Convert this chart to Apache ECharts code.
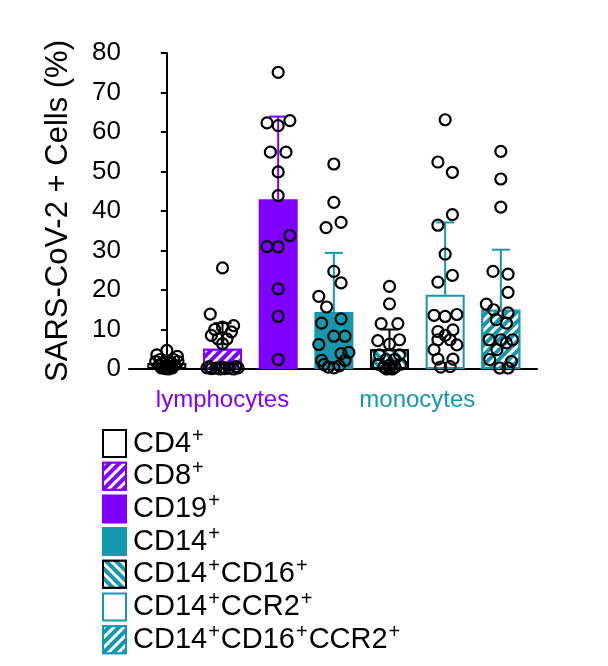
<!DOCTYPE html>
<html>
<head>
<meta charset="utf-8">
<script src="https://cdn.jsdelivr.net/npm/echarts@6/dist/echarts.min.js"></script>
<style>
  html, body { margin: 0; padding: 0; background: #fff; }
  #chart { width: 608px; height: 666px; }
</style>
</head>
<body>
<div id="chart"></div>
<script>
// cell populations, mean and SD (%)
const categories = ['CD4+', 'CD8+', 'CD19+', 'CD14+', 'CD14+CD16+', 'CD14+CCR2+', 'CD14+CD16+CCR2+'];
const means = [1.5, 5.1, 43.0, 14.4, 5.0, 18.8, 15.0];
const sds = [1.4, 6.5, 20.9, 15.0, 5.0, 18.3, 15.2];

const yMin = 0, yMax = 80, yStep = 10;

const groupNames = ['lymphocytes', 'monocytes'];
const groupMembers = [[0, 1, 2], [3, 4, 5, 6]];

// individual donors: [jitter in category units, value]
const cd4Points = [[0, 4.7], [-0.18, 3.6], [0.19, 3.2], [-0.12, 2.4], [0.12, 2.4], [-0.2, 1.9], [0.2, 1.9],
  [0, 2.0], [-0.08, 1.5], [0.08, 1.5], [-0.14, 1.0], [0.14, 1.0], [0, 1.0], [-0.06, 0.6], [0.06, 0.6],
  [-0.1, 0.3], [0.1, 0.3], [0, 0.2], [-0.03, 0.1], [0.03, 0.0]];
const cd8Points = [[0, 25.6], [-0.22, 13.9], [0.2, 11.0], [0, 10.6], [-0.14, 10.0], [0.16, 9.4], [-0.2, 8.5],
  [-0.08, 7.6], [0.08, 7.6], [0, 6.4], [-0.28, 0.3], [-0.2, 0.1], [-0.12, 0.2], [-0.04, 0.0], [0.04, 0.1],
  [0.12, 0.2], [0.2, 0.0], [0.28, 0.3], [-0.24, 0.6], [0.24, 0.6], [0, 0.5]];
const cd19Points = [[0, 75.1], [-0.2, 62.3], [0, 61.6], [0.21, 62.9], [-0.14, 54.9], [0.14, 54.9], [0, 49.9],
  [0, 43.9], [-0.2, 31.0], [0, 30.9], [0.21, 33.8], [0, 20.3], [0, 13.3], [0, 2.4]];
const cd14Points = [[0, 51.9], [0, 42.2], [0.13, 37.1], [-0.14, 35.8], [0, 24.7], [0.13, 21.8], [-0.27, 18.4],
  [-0.13, 15.7], [-0.22, 11.6], [0.13, 12.7], [0, 8.3], [0.2, 8.3], [-0.27, 6.2], [0.13, 3.9], [0.27, 4.2],
  [-0.22, 2.2], [0.2, 2.2], [-0.18, 1.1], [0, 0.3], [0.1, 0.8], [-0.1, 0.5]];
const cd14cd16Points = [[0, 20.9], [0, 16.5], [-0.15, 11.5], [0.15, 11.5], [-0.21, 7.2], [0.18, 7.4], [0, 6.3],
  [-0.18, 3.6], [0.18, 3.6], [-0.06, 2.4], [0.09, 2.4], [-0.2, 1.2], [0.2, 1.2], [-0.1, 0.5], [0.1, 0.5],
  [0, 0.2], [-0.05, 0.0], [0.05, 0.0], [0, 1.0]];
const ccr2Points = [[0, 63.1], [-0.13, 52.4], [0.13, 49.8], [0.13, 39.1], [-0.13, 36.4], [0, 29.1], [0.13, 23.7],
  [-0.13, 22.0], [-0.2, 13.6], [0, 13.3], [0.21, 13.8], [-0.13, 9.5], [0.14, 9.9], [0, 8.5], [-0.13, 7.4],
  [0.09, 7.4], [0.21, 6.1], [-0.2, 4.9], [-0.13, 2.5], [0.14, 2.5], [-0.08, 0.5], [0.09, 0.6]];
const cd16ccr2Points = [[0, 55.1], [0, 48.1], [0, 41.0], [-0.14, 24.7], [0.13, 24.0], [0.13, 19.4], [-0.26, 16.4],
  [-0.13, 15.0], [0.13, 14.2], [-0.08, 12.5], [0.1, 11.6], [-0.21, 7.4], [0, 7.4], [0.21, 7.4], [-0.07, 4.9],
  [0.1, 6.6], [-0.2, 2.4], [0.19, 1.9], [-0.02, 0.25], [0.13, 0.25]];
const points = [cd4Points, cd8Points, cd19Points, cd14Points, cd14cd16Points, ccr2Points, cd16ccr2Points];

const purple = '#7F00FF';
const teal = '#1598AE';
const font = '"Liberation Sans", Arial, Helvetica, sans-serif';

function stripes(rotation) {
  return { symbol: 'rect', symbolSize: 1, color: '#fff', dashArrayX: [1, 0], dashArrayY: [3, 3.5], rotation: rotation };
}
const barStyles = [
  { color: '#fff', borderColor: '#000' },
  { color: purple, borderColor: purple, decal: stripes(-Math.PI / 4) },
  { color: purple, borderColor: purple },
  { color: teal, borderColor: teal },
  { color: teal, borderColor: '#000', decal: stripes(Math.PI / 4) },
  { color: '#fff', borderColor: teal },
  { color: teal, borderColor: teal, decal: stripes(-Math.PI / 4) }
];
const errColors = ['#000', '#000', purple, teal, '#000', teal, teal];

const chart = echarts.init(document.getElementById('chart'));

const barSeries = categories.map((name, i) => ({
  type: 'bar',
  name: name,
  data: [[i, means[i]]],
  barWidth: 39,
  barGap: '-100%',
  itemStyle: Object.assign({ borderWidth: 2 }, barStyles[i]),
  z: 2,
  silent: true
}));

const option = {
  animation: false,
  grid: { left: 129, right: 71, top: 53, bottom: 297 },
  xAxis: {
    type: 'value', min: -0.68, max: 6.65,
    axisLine: { show: true, lineStyle: { color: '#000', width: 2 } },
    axisTick: { show: false }, axisLabel: { show: false }, splitLine: { show: false }
  },
  yAxis: {
    type: 'value', min: yMin, max: yMax, interval: yStep,
    name: 'SARS-CoV-2 + Cells (%)',
    nameLocation: 'middle', nameGap: 55,
    nameTextStyle: { fontSize: 31, color: '#000', fontFamily: font },
    axisLine: { show: true, lineStyle: { color: '#000', width: 2 } },
    axisTick: { show: true, length: 6, lineStyle: { color: '#000', width: 2 } },
    axisLabel: { fontSize: 26, color: '#000', fontFamily: font, margin: 8 },
    splitLine: { show: false }
  },
  legend: {
    data: categories,
    orient: 'vertical',
    left: 97, top: 421, height: 242,
    itemWidth: 23, itemHeight: 27, itemGap: -2.3,
    icon: 'rect',
    selectedMode: false,
    formatter: name => name.replace(/([^+]+)\+/g, '{n|$1}{s|+}'),
    textStyle: {
      color: '#000', fontFamily: font, fontSize: 29, lineHeight: 27, padding: [0, 0, 0, 2],
      rich: {
        n: { fontSize: 29, lineHeight: 27, color: '#000', fontFamily: font },
        s: { fontSize: 20, lineHeight: 12, padding: [0, 1, 15, 1], color: '#000', fontFamily: font }
      }
    }
  },
  series: barSeries.concat([
    {
      type: 'custom',
      name: 'sd',
      z: 3,
      silent: true,
      data: categories.map((c, i) => [i, means[i], means[i] + sds[i]]),
      encode: { x: 0, y: [1, 2] },
      renderItem: (params, api) => {
        const lo = api.coord([api.value(0), api.value(1)]);
        const hi = api.coord([api.value(0), api.value(2)]);
        const c = errColors[params.dataIndex];
        return {
          type: 'group',
          children: [
            { type: 'line', shape: { x1: lo[0], y1: lo[1], x2: hi[0], y2: hi[1] }, style: { stroke: c, lineWidth: 2 } },
            { type: 'line', shape: { x1: hi[0] - 9, y1: hi[1], x2: hi[0] + 9, y2: hi[1] }, style: { stroke: c, lineWidth: 2 } }
          ]
        };
      }
    },
    {
      type: 'scatter',
      name: 'donors',
      z: 4,
      silent: true,
      symbol: 'circle',
      symbolSize: 11,
      itemStyle: { color: 'rgba(0,0,0,0)', borderColor: '#000', borderWidth: 2.2, opacity: 1 },
      data: points.flatMap((pts, i) => pts.map(p => [i + p[0], p[1]]))
    }
  ])
};
chart.setOption(option);

// group captions under the axis, centred on their member bars
const groupColors = [purple, teal];
const baseY = chart.convertToPixel({ yAxisIndex: 0 }, yMin);
chart.setOption({
  graphic: groupNames.map((g, k) => {
    const mid = groupMembers[k].reduce((a, b) => a + b, 0) / groupMembers[k].length;
    return {
      type: 'text',
      x: chart.convertToPixel({ xAxisIndex: 0 }, mid),
      y: baseY + 31,
      style: { text: g, fill: groupColors[k], font: '24px ' + font, align: 'center', verticalAlign: 'middle' }
    };
  })
});
</script>
</body>
</html>
